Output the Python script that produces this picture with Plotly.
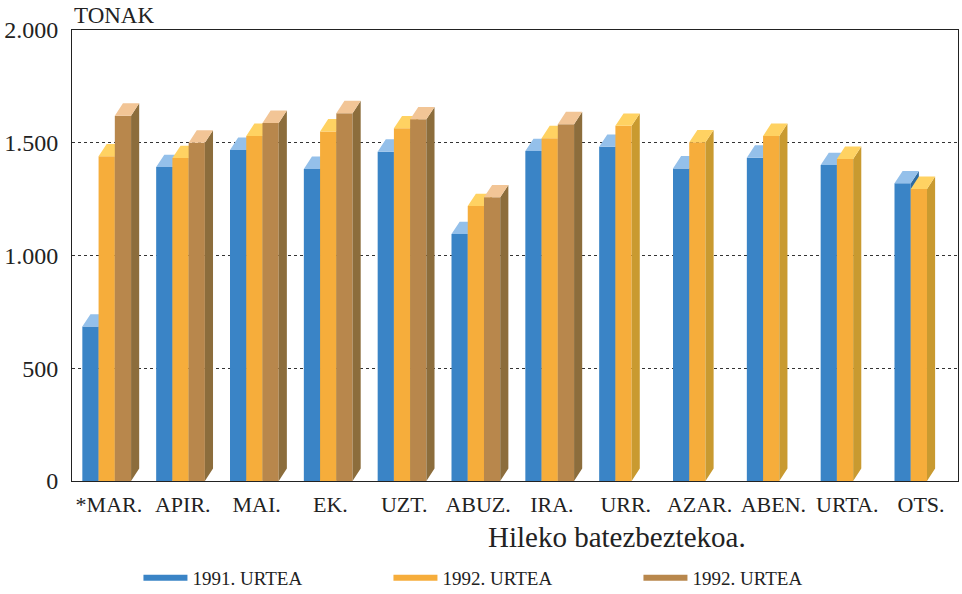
import plotly.graph_objects as go

months = ["*MAR.", "APIR.", "MAI.", "EK.", "UZT.", "ABUZ.", "IRA.", "URR.", "AZAR.", "ABEN.", "URTA.", "OTS."]
serie_1991 = [685, 1392, 1468, 1384, 1460, 1095, 1463, 1482, 1386, 1434, 1401, 1320]
serie_1992a = [1440, 1432, 1530, 1550, 1564, 1219, 1520, 1575, 1502, 1530, 1428, 1295]
serie_1992b = [1620, 1500, 1588, 1631, 1604, 1258, 1582, None, None, None, None, None]
names = ["1991. URTEA", "1992. URTEA", "1992. URTEA"]
y_ticks = [0, 500, 1000, 1500, 2000]
y_ticktext = ["0", "500", "1.000", "1.500", "2.000"]

FONT = "Liberation Serif"
W = 0.22      # bar width (category units)
DX = 0.11     # 3D depth in x
DY = 55       # 3D depth in y (value units)

styles = [
    dict(front="#3a84c6", side="#2c6aa0", top="#94c0ea", off=-0.36),
    dict(front="#f6ad3b", side="#c99a30", top="#ffd262", off=-0.14),
    dict(front="#b8874c", side="#8c6d3c", top="#f2c596", off=0.08),
]
series = [serie_1991, serie_1992a, serie_1992b]

fig = go.Figure()
for k, (vals, st, nm) in enumerate(zip(series, styles, names)):
    fx, fy, sx, sy, tx, ty = [], [], [], [], [], []
    for i, v in enumerate(vals):
        if v is None:
            continue
        xl = i + st["off"]
        xr = xl + W
        fx += [xl, xr, xr, xl, xl, None]
        fy += [0, 0, v, v, 0, None]
        sx += [xr, xr + DX, xr + DX, xr, xr, None]
        sy += [0, DY, v + DY, v, 0, None]
        tx += [xl, xr, xr + DX, xl + DX, xl, None]
        ty += [v, v, v + DY, v + DY, v, None]
    grp = "g%d" % k
    fig.add_trace(go.Scatter(x=fx, y=fy, mode="none", fill="toself", fillcolor=st["front"],
                             name=nm, legendgroup=grp, showlegend=True, hoverinfo="skip"))
    fig.add_trace(go.Scatter(x=sx, y=sy, mode="none", fill="toself", fillcolor=st["side"],
                             legendgroup=grp, showlegend=False, hoverinfo="skip"))
    fig.add_trace(go.Scatter(x=tx, y=ty, mode="none", fill="toself", fillcolor=st["top"],
                             legendgroup=grp, showlegend=False, hoverinfo="skip"))

fig.update_layout(
    width=962, height=594,
    margin=dict(l=72, r=4, t=30, b=113, autoexpand=False),
    paper_bgcolor="white", plot_bgcolor="white",
    font=dict(family=FONT, color="#222222", size=20),
    showlegend=True,
    legend=dict(orientation="h", x=0.075, xanchor="left", y=-0.215, yanchor="middle",
                entrywidth=191, entrywidthmode="pixels", font=dict(size=19, family=FONT),
                itemwidth=44, traceorder="normal"),
    xaxis=dict(range=[-0.5, 11.5], tickmode="array", tickvals=list(range(len(months))),
               ticktext=months, showgrid=False, zeroline=False, showline=True,
               linecolor="#222222", linewidth=1, mirror=True, ticks="",
               tickfont=dict(size=22, family=FONT), ticklabelstandoff=4),
    yaxis=dict(range=[0, 2000], tickmode="array", tickvals=y_ticks, ticktext=y_ticktext,
               showgrid=True, gridcolor="#333333", griddash="3px,3px", gridwidth=1,
               zeroline=False, showline=True, linecolor="#222222", linewidth=1, mirror=True,
               ticks="", tickfont=dict(size=24, family=FONT), ticklabelstandoff=8),
    annotations=[
        dict(text="TONAK", xref="paper", yref="paper", x=0, y=1, xanchor="left",
             yanchor="bottom", yshift=0, showarrow=False, font=dict(size=23, family=FONT)),
        dict(text="Hileko batezbeztekoa.", xref="paper", yref="paper", x=0.615, y=-0.124,
             xanchor="center", yanchor="middle", showarrow=False, font=dict(size=29, family=FONT)),
    ],
)

fig.write_html("out.html", config={"displayModeBar": False},
               post_script="document.body.style.margin='0';document.body.style.padding='0';")
